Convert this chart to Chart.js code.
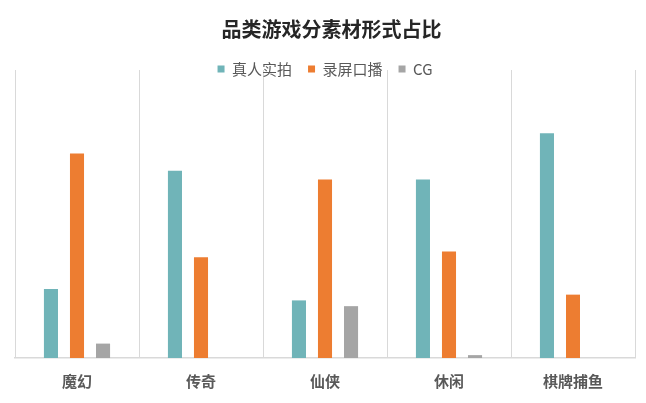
<!doctype html>
<html lang="zh">
  <head>
    <meta charset="utf-8">
    <title>品类游戏分素材形式占比</title>
    <style>
      * {
        margin: 0;
        padding: 0;
      }
      body {
        background: #fff;
      }
      .chartBox {
        width: 646px;
        height: 403px;
      }
    </style>
  </head>
  <body>
    <div class="chartBox">
      <canvas id="myChart" width="646" height="403"></canvas>
    </div>
    <script src="https://cdn.jsdelivr.net/npm/chart.js/dist/chart.umd.min.js"></script>
    <script>
    // data (percent of each category)
    const categories = ['魔幻', '传奇', '仙侠', '休闲', '棋牌捕鱼']
    const seriesNames = ['真人实拍', '录屏口播', 'CG']
    const liveAction = [24, 65, 20, 62, 78]
    const screenRecord = [71, 35, 62, 37, 22]
    const cg = [5, 0, 18, 1, 0]
    const colors = ['#70B4B8', '#ED7D31', '#A5A5A5']

    const FONT = '"Noto Sans CJK SC", "Noto Sans", sans-serif'

    // title and legend sit on top of the plot area like in the excel chart,
    // so nudge them after the layout is done
    const nudgeHeader = {
      id: 'nudgeHeader',
      afterLayout: (chart) => {
        const t = chart.titleBlock
        const l = chart.legend
        if (t) { t.top += 12.5; t.bottom += 12.5; t.left += 6.5; t.right += 6.5 }
        if (l) { l.top += 16.5; l.bottom += 16.5 }
      }
    }

    const data = {
      labels: categories,
      datasets: [liveAction, screenRecord, cg].map((vals, i) => ({
        label: seriesNames[i],
        data: vals,
        backgroundColor: colors[i],
        categoryPercentage: 0.63,
        barPercentage: 0.54
      }))
    }

    const config = {
      type: 'bar',
      data,
      options: {
        responsive: false,
        animation: false,
        layout: {
          padding: { top: 5, left: 15, right: 11, bottom: -1 }
        },
        plugins: {
          title: {
            display: true,
            text: '品类游戏分素材形式占比',
            color: '#262626',
            font: { family: FONT, size: 20, weight: 'bold' },
            padding: { top: 0, bottom: 0 }
          },
          legend: {
            position: 'top',
            labels: {
              color: '#595959',
              font: { family: FONT, size: 15 },
              boxWidth: 7,
              boxHeight: 7,
              padding: 16
            }
          },
          tooltip: { enabled: false }
        },
        scales: {
          x: {
            grid: {
              offset: true,
              color: '#D9D9D9',
              drawTicks: false
            },
            border: { color: '#D9D9D9', width: 1.5 },
            ticks: {
              color: '#595959',
              padding: 14,
              font: { family: FONT, size: 15, weight: 'bold' }
            }
          },
          y: {
            display: false,
            min: 0,
            max: 100
          }
        }
      },
      plugins: [nudgeHeader]
    }

    const myChart = new Chart(document.getElementById('myChart'), config)
    </script>
  </body>
</html>
